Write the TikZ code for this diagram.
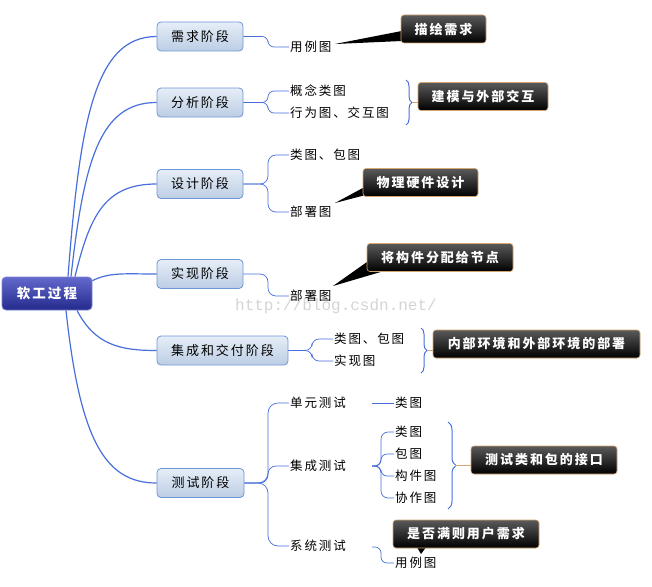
\documentclass[tikz,border=0pt]{standalone}
\usepackage{fontspec}
\setmainfont{Noto Sans CJK SC}[LetterSpace=15]
\newfontfamily\wmfont{Liberation Mono}
\usetikzlibrary{decorations.pathreplacing}
\pgfdeclarelayer{bg}
\pgfsetlayers{bg,main}
\definecolor{conn}{RGB}{72,110,220}
\definecolor{stageborder}{RGB}{110,150,215}
\definecolor{stagetop}{RGB}{230,238,247}
\definecolor{stagebot}{RGB}{188,205,228}
\definecolor{roottop}{RGB}{100,106,205}
\definecolor{rootbot}{RGB}{36,42,140}
\definecolor{rootborder}{RGB}{120,130,210}
\definecolor{calltop}{RGB}{90,90,90}
\definecolor{callborder}{RGB}{215,165,115}
\definecolor{wm}{RGB}{212,212,212}
\begin{document}
\begin{tikzpicture}[x=1pt,y=-1pt,
  stagebox/.style={draw=stageborder, line width=0.8pt, rounded corners=4pt, top color=stagetop, bottom color=stagebot, minimum height=29pt, font=\fontsize{13}{15}\selectfont, inner sep=2pt},
  rootbox/.style={draw=rootborder, line width=0.8pt, rounded corners=4pt, top color=roottop, bottom color=rootbot, text=white, minimum height=33pt, minimum width=90pt, font=\fontsize{13.5}{15}\selectfont\bfseries},
  leaf/.style={anchor=west, inner sep=1pt, font=\fontsize{12.5}{14}\selectfont},
  callbox/.style={draw=callborder, line width=0.6pt, rounded corners=3pt, top color=calltop, bottom color=black, text=white, minimum height=28pt, font=\fontsize{13}{15}\selectfont\bfseries, inner sep=2pt},
  rootline/.style={draw=conn, line width=1.2pt},
  leafline/.style={draw=conn, line width=0.7pt},
  bracestyle/.style={draw=conn, line width=1pt, decorate, decoration={brace, amplitude=6pt}},
  tieline/.style={draw=callborder, line width=0.6pt},
  ptr/.style={fill=black}
]
\useasboundingbox (0,0) rectangle (652,586);

% watermark
\node[text=wm, font=\wmfont\fontsize{16}{18}\selectfont] (wmk) at (336,306) {http://blog.csdn.net/};

% root and stages
\node[rootbox] (root) at (47,293.5) {软工过程};
\node[stagebox, minimum width=86pt] (req) at (200,36.5) {需求阶段};
\node[stagebox, minimum width=86pt] (ana) at (200,102.5) {分析阶段};
\node[stagebox, minimum width=86pt] (des) at (200,184) {设计阶段};
\node[stagebox, minimum width=86pt] (imp) at (200,274) {实现阶段};
\node[stagebox, minimum width=131pt] (int) at (222.5,350.5) {集成和交付阶段};
\node[stagebox, minimum width=87pt] (tst) at (200.5,483) {测试阶段};

% root connectors
\draw[rootline] ([xshift=21pt]root.north) .. controls (80,120) and (95,36.5) .. (req.west);
\draw[rootline] ([xshift=24pt]root.north) .. controls (84,160) and (100,102.5) .. (ana.west);
\draw[rootline] ([xshift=28pt]root.north) .. controls (90,215) and (105,184) .. (des.west);
\draw[rootline] ([yshift=-4pt]root.north east) .. controls (110,272) and (125,274) .. (imp.west);
\draw[rootline] ([xshift=30pt]root.south) .. controls (95,345) and (120,350.5) .. (int.west);
\draw[rootline] ([xshift=19pt]root.south) .. controls (80,440) and (105,483) .. (tst.west);

% leaves
\node[leaf] (l1) at (289,47) {用例图};
\node[leaf] (a1) at (289,91) {概念类图};
\node[leaf] (a2) at (289,113) {行为图、交互图};
\node[leaf] (d1) at (289,155) {类图、包图};
\node[leaf] (d2) at (289,212) {部署图};
\node[leaf] (m1) at (289,296) {部署图};
\node[leaf] (i1) at (333,339) {类图、包图};
\node[leaf] (i2) at (333,361) {实现图};
\node[leaf] (t1) at (289,403) {单元测试};
\node[leaf] (t2) at (289,466) {集成测试};
\node[leaf] (t3) at (289,546) {系统测试};
\node[leaf] (u1) at (394,403) {类图};
\node[leaf] (k1) at (394,432) {类图};
\node[leaf] (k2) at (394,454) {包图};
\node[leaf] (k3) at (394,476) {构件图};
\node[leaf] (k4) at (394,498) {协作图};
\node[leaf] (s1) at (394,563) {用例图};

% leaf connectors
\draw[leafline, rounded corners=6pt] (req.east) -- (268,36.5) |- (l1.west);
\draw[leafline, rounded corners=6pt] (ana.east) -- (268,102.5) |- (a1.west);
\draw[leafline, rounded corners=6pt] (ana.east) -- (268,102.5) |- (a2.west);
\draw[leafline, rounded corners=8pt] (des.east) -- (268,184) |- (d1.west);
\draw[leafline, rounded corners=8pt] (des.east) -- (268,184) |- (d2.west);
\draw[leafline, rounded corners=8pt] (imp.east) -- (268,274) |- (m1.west);
\draw[leafline, rounded corners=7pt] (int.east) -- (312,350.5) |- (i1.west);
\draw[leafline, rounded corners=7pt] (int.east) -- (312,350.5) |- (i2.west);
\draw[leafline, rounded corners=10pt] (tst.east) -- (268,483) |- (t1.west);
\draw[leafline, rounded corners=8pt] (tst.east) -- (268,483) |- (t2.west);
\draw[leafline, rounded corners=10pt] (tst.east) -- (268,483) |- (t3.west);

\coordinate (t1o) at (372,403);
\coordinate (t2o) at (372,466);
\coordinate (t3o) at (372,547);
\draw[leafline] (t1o) -- (u1.west);
\draw[leafline, rounded corners=7pt] (t2o) -- (381,466) |- (k1.west);
\draw[leafline, rounded corners=6pt] (t2o) -- (381,466) |- (k2.west);
\draw[leafline, rounded corners=6pt] (t2o) -- (381,466) |- (k3.west);
\draw[leafline, rounded corners=7pt] (t2o) -- (381,466) |- (k4.west);
\draw[leafline, rounded corners=6pt] (t3o) -- (381,547) |- (s1.west);

% callouts
\node[callbox, minimum width=85pt] (c1) at (443.5,29) {描绘需求};
\node[callbox, minimum width=130pt] (c2) at (483,96.5) {建模与外部交互};
\node[callbox, minimum width=115pt] (c3) at (420.5,182.5) {物理硬件设计};
\node[callbox, minimum width=146pt] (c4) at (440,257.5) {将构件分配给节点};
\node[callbox, minimum width=207pt] (c5) at (536.5,344) {内部环境和外部环境的部署};
\node[callbox, minimum width=146pt] (c6) at (544,460) {测试类和包的接口};
\node[callbox, minimum width=146pt] (c7) at (466,534) {是否满则用户需求};

% pointers
\coordinate (p1) at (335,44);
\coordinate (p3) at (335,203);
\coordinate (p4) at (333,286);
\coordinate (p7) at (421,554);
\begin{pgfonlayer}{bg}
\fill[ptr] ([shift={(1pt,-2pt)}]c1.west) -- ([shift={(1pt,-12pt)}]c1.west) -- (p1) -- cycle;
\fill[ptr] ([shift={(1pt,-5pt)}]c3.west) -- ([shift={(1pt,-13pt)}]c3.west) -- (p3) -- cycle;
\fill[ptr] ([shift={(1pt,-4pt)}]c4.west) -- ([shift={(18pt,1pt)}]c4.south west) -- (p4) -- cycle;
\fill[ptr] ([shift={(-49pt,1pt)}]c7.south) -- ([shift={(-40pt,1pt)}]c7.south) -- (p7) -- cycle;
\end{pgfonlayer}

% braces
\coordinate (b2a) at (406,80);
\coordinate (b2b) at (406,125);
\coordinate (b2t) at (412,102.5);
\draw[bracestyle] (b2a) -- (b2b);
\draw[tieline] (b2t) -- (c2.west |- b2t);
\coordinate (b5a) at (421,328);
\coordinate (b5b) at (421,373);
\coordinate (b5t) at (427,350.5);
\draw[bracestyle] (b5a) -- (b5b);
\draw[tieline] (b5t) -- (c5.west |- b5t);
\coordinate (b6a) at (448,422);
\coordinate (b6b) at (448,509);
\coordinate (b6t) at (455,465.5);
\draw[bracestyle, decoration={brace, amplitude=8pt}] (b6a) -- (b6b);
\draw[tieline] (b6t) -- (c6.west |- b6t);
\end{tikzpicture}
\end{document}
